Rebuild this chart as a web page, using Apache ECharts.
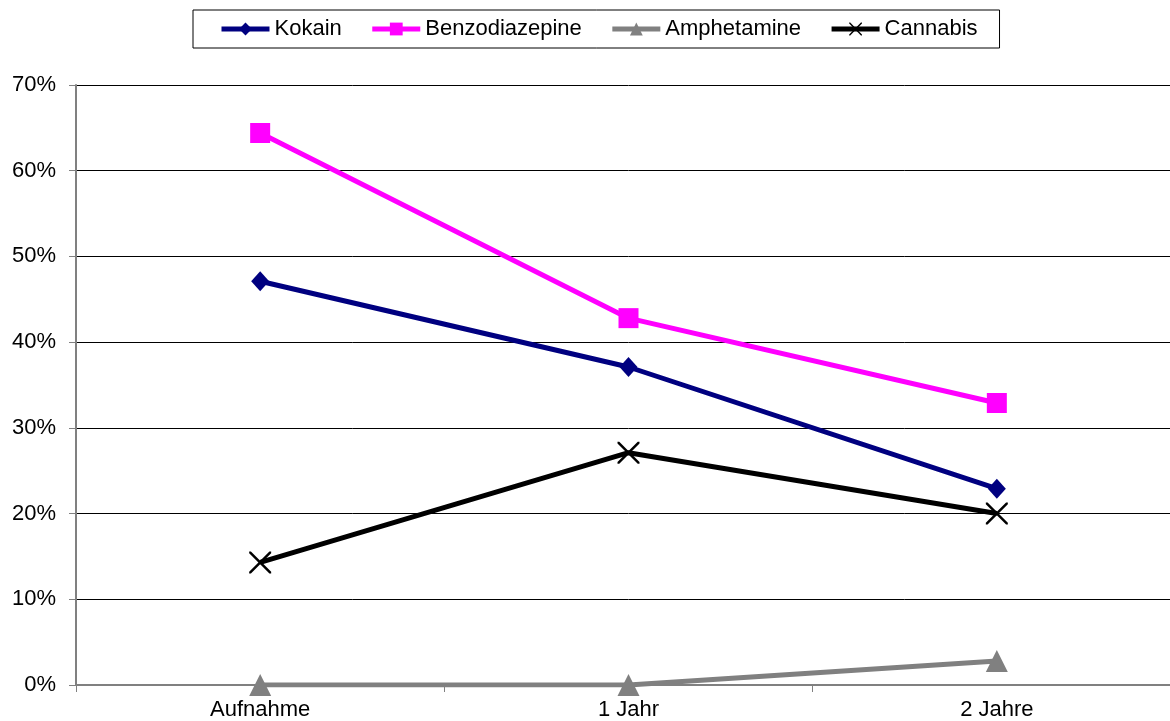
<!DOCTYPE html>
<html><head><meta charset="utf-8">
<script src="https://cdn.jsdelivr.net/npm/echarts@6/dist/echarts.min.js"></script>
<style>html,body{margin:0;padding:0;background:#fff;overflow:hidden}#c{width:1181px;height:721px}</style>
</head><body><div id="c"></div>
<script>
const categories = ['Aufnahme', '1 Jahr', '2 Jahre'];
const kokain = [47.1, 37.1, 22.9];
const benzodiazepine = [64.4, 42.8, 32.9];
const amphetamine = [0, 0, 2.8];
const cannabis = [14.3, 27.1, 20.0];
const yTicks = [0, 10, 20, 30, 40, 50, 60, 70];

const xPath = 'path://M0,0 L1.6,0 L10,8.4 L18.4,0 L20,0 L20,1.6 L11.6,10 L20,18.4 L20,20 L18.4,20 L10,11.6 L1.6,20 L0,20 L0,18.4 L8.4,10 L0,1.6 Z';
const font = 'Liberation Sans, Arial, sans-serif';
const chart = echarts.init(document.getElementById('c'));
function s(name, data, color, symbol, size) {
  return {
    name, type: 'line', data, symbol, symbolSize: size, showSymbol: true,
    lineStyle: { color, width: 5 }, itemStyle: { color, opacity: 1 },
    emphasis: { disabled: true }, animation: false
  };
}
chart.setOption({
  animation: false,
  grid: { left: 76, top: 85, right: 0, height: 600, containLabel: false },
  legend: {
    top: 10, left: 193, itemWidth: 48, itemHeight: 16, itemGap: 28,
    padding: [8, 22, 8, 26], borderColor: '#000', borderWidth: 1,
    lineStyle: { width: 5 },
    textStyle: { fontFamily: font, fontSize: 22, color: '#000' },
    data: ['Kokain', 'Benzodiazepine', 'Amphetamine', 'Cannabis']
  },
  xAxis: {
    type: 'category', data: categories, boundaryGap: true,
    axisLine: { lineStyle: { color: '#808080', width: 2 } },
    axisTick: { show: true, length: 7, lineStyle: { color: '#808080', width: 1 } },
    axisLabel: { fontFamily: font, fontSize: 22, color: '#000', margin: 14 }
  },
  yAxis: {
    type: 'value', min: 0, max: 70, interval: 10,
    axisLine: { show: true, lineStyle: { color: '#808080', width: 2 } },
    axisTick: { show: true, length: 7, lineStyle: { color: '#808080' } },
    axisLabel: { fontFamily: font, fontSize: 22, color: '#000', margin: 20,
      formatter: v => yTicks.includes(v) ? v + '%' : '' },
    splitLine: { lineStyle: { color: '#000', width: 1 } }
  },
  series: [
    s('Kokain', kokain, '#000080', 'diamond', [18, 20]),
    s('Benzodiazepine', benzodiazepine, '#ff00ff', 'rect', 20),
    s('Amphetamine', amphetamine, '#808080', 'triangle', 22),
    s('Cannabis', cannabis, '#000000', xPath, 22)
  ]
});
</script></body></html>
